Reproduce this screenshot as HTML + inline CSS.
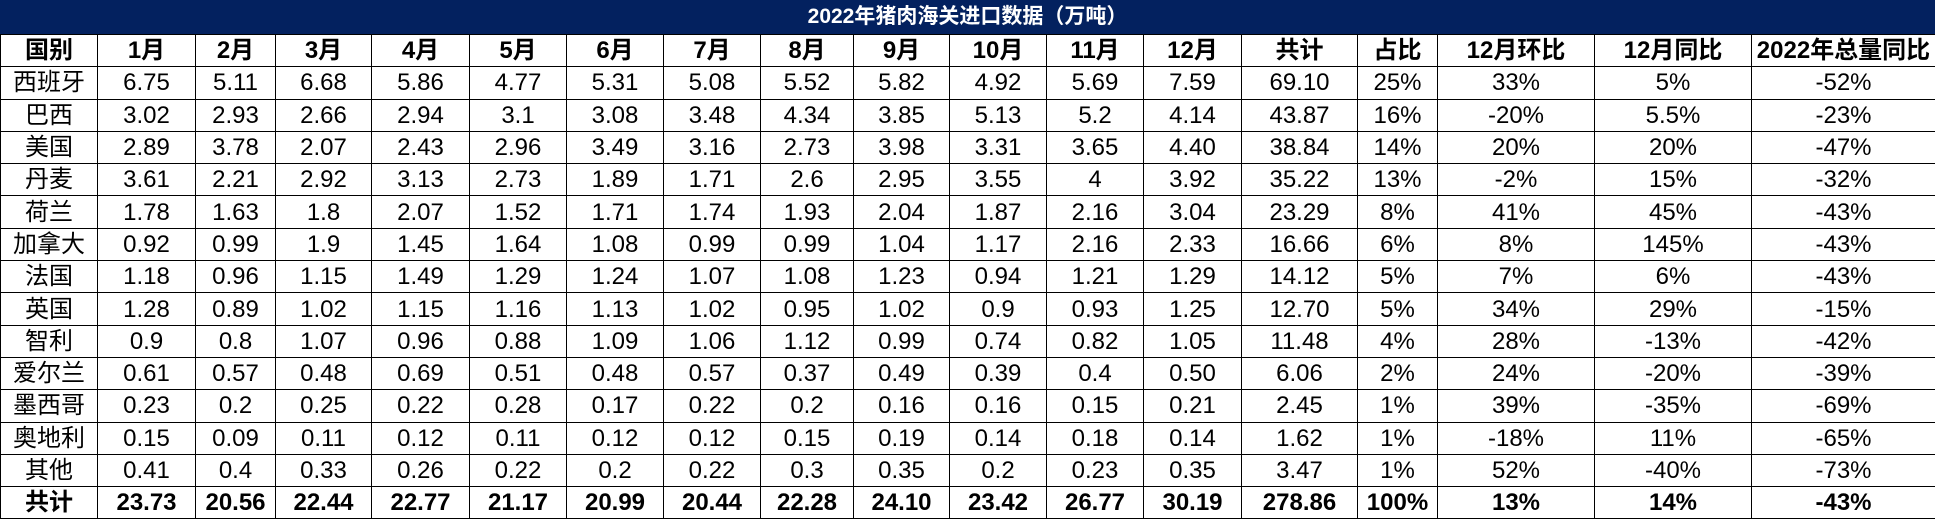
<!DOCTYPE html>
<html><head><meta charset="utf-8"><style>
html,body{margin:0;padding:0;background:#fff;}
#w{position:absolute;left:0;top:0;width:1935px;height:519px;overflow:hidden;}
.t{position:absolute;left:0;top:0;width:1935px;height:34px;background:#03215f;color:#fff;font:bold 21px "Liberation Sans","Noto Sans CJK SC",sans-serif;text-align:center;line-height:34px;}
table{position:absolute;left:0;top:34px;border-collapse:collapse;table-layout:fixed;width:1935px;font-family:"Liberation Sans Narrow","Liberation Sans","Noto Sans CJK SC",sans-serif;font-size:24px;color:#000;}
td{border:1px solid #000;height:31.3px;padding:0;text-align:center;white-space:nowrap;overflow:hidden;line-height:31px;}
tr.b td{font-weight:bold;}
</style></head><body><div id="w">
<div class="t">2022年猪肉海关进口数据（万吨）</div>
<table>
<colgroup><col style="width:97px"><col style="width:98px"><col style="width:80px"><col style="width:96px"><col style="width:98px"><col style="width:97px"><col style="width:97px"><col style="width:97px"><col style="width:93px"><col style="width:96px"><col style="width:97px"><col style="width:97px"><col style="width:98px"><col style="width:116px"><col style="width:80px"><col style="width:157px"><col style="width:157px"><col style="width:184px"></colgroup>
<tr class="b"><td>国别</td><td>1月</td><td>2月</td><td>3月</td><td>4月</td><td>5月</td><td>6月</td><td>7月</td><td>8月</td><td>9月</td><td>10月</td><td>11月</td><td>12月</td><td>共计</td><td>占比</td><td>12月环比</td><td>12月同比</td><td>2022年总量同比</td></tr>
<tr><td>西班牙</td><td>6.75</td><td>5.11</td><td>6.68</td><td>5.86</td><td>4.77</td><td>5.31</td><td>5.08</td><td>5.52</td><td>5.82</td><td>4.92</td><td>5.69</td><td>7.59</td><td>69.10</td><td>25%</td><td>33%</td><td>5%</td><td>-52%</td></tr>
<tr><td>巴西</td><td>3.02</td><td>2.93</td><td>2.66</td><td>2.94</td><td>3.1</td><td>3.08</td><td>3.48</td><td>4.34</td><td>3.85</td><td>5.13</td><td>5.2</td><td>4.14</td><td>43.87</td><td>16%</td><td>-20%</td><td>5.5%</td><td>-23%</td></tr>
<tr><td>美国</td><td>2.89</td><td>3.78</td><td>2.07</td><td>2.43</td><td>2.96</td><td>3.49</td><td>3.16</td><td>2.73</td><td>3.98</td><td>3.31</td><td>3.65</td><td>4.40</td><td>38.84</td><td>14%</td><td>20%</td><td>20%</td><td>-47%</td></tr>
<tr><td>丹麦</td><td>3.61</td><td>2.21</td><td>2.92</td><td>3.13</td><td>2.73</td><td>1.89</td><td>1.71</td><td>2.6</td><td>2.95</td><td>3.55</td><td>4</td><td>3.92</td><td>35.22</td><td>13%</td><td>-2%</td><td>15%</td><td>-32%</td></tr>
<tr><td>荷兰</td><td>1.78</td><td>1.63</td><td>1.8</td><td>2.07</td><td>1.52</td><td>1.71</td><td>1.74</td><td>1.93</td><td>2.04</td><td>1.87</td><td>2.16</td><td>3.04</td><td>23.29</td><td>8%</td><td>41%</td><td>45%</td><td>-43%</td></tr>
<tr><td>加拿大</td><td>0.92</td><td>0.99</td><td>1.9</td><td>1.45</td><td>1.64</td><td>1.08</td><td>0.99</td><td>0.99</td><td>1.04</td><td>1.17</td><td>2.16</td><td>2.33</td><td>16.66</td><td>6%</td><td>8%</td><td>145%</td><td>-43%</td></tr>
<tr><td>法国</td><td>1.18</td><td>0.96</td><td>1.15</td><td>1.49</td><td>1.29</td><td>1.24</td><td>1.07</td><td>1.08</td><td>1.23</td><td>0.94</td><td>1.21</td><td>1.29</td><td>14.12</td><td>5%</td><td>7%</td><td>6%</td><td>-43%</td></tr>
<tr><td>英国</td><td>1.28</td><td>0.89</td><td>1.02</td><td>1.15</td><td>1.16</td><td>1.13</td><td>1.02</td><td>0.95</td><td>1.02</td><td>0.9</td><td>0.93</td><td>1.25</td><td>12.70</td><td>5%</td><td>34%</td><td>29%</td><td>-15%</td></tr>
<tr><td>智利</td><td>0.9</td><td>0.8</td><td>1.07</td><td>0.96</td><td>0.88</td><td>1.09</td><td>1.06</td><td>1.12</td><td>0.99</td><td>0.74</td><td>0.82</td><td>1.05</td><td>11.48</td><td>4%</td><td>28%</td><td>-13%</td><td>-42%</td></tr>
<tr><td>爱尔兰</td><td>0.61</td><td>0.57</td><td>0.48</td><td>0.69</td><td>0.51</td><td>0.48</td><td>0.57</td><td>0.37</td><td>0.49</td><td>0.39</td><td>0.4</td><td>0.50</td><td>6.06</td><td>2%</td><td>24%</td><td>-20%</td><td>-39%</td></tr>
<tr><td>墨西哥</td><td>0.23</td><td>0.2</td><td>0.25</td><td>0.22</td><td>0.28</td><td>0.17</td><td>0.22</td><td>0.2</td><td>0.16</td><td>0.16</td><td>0.15</td><td>0.21</td><td>2.45</td><td>1%</td><td>39%</td><td>-35%</td><td>-69%</td></tr>
<tr><td>奥地利</td><td>0.15</td><td>0.09</td><td>0.11</td><td>0.12</td><td>0.11</td><td>0.12</td><td>0.12</td><td>0.15</td><td>0.19</td><td>0.14</td><td>0.18</td><td>0.14</td><td>1.62</td><td>1%</td><td>-18%</td><td>11%</td><td>-65%</td></tr>
<tr><td>其他</td><td>0.41</td><td>0.4</td><td>0.33</td><td>0.26</td><td>0.22</td><td>0.2</td><td>0.22</td><td>0.3</td><td>0.35</td><td>0.2</td><td>0.23</td><td>0.35</td><td>3.47</td><td>1%</td><td>52%</td><td>-40%</td><td>-73%</td></tr>
<tr class="b"><td>共计</td><td>23.73</td><td>20.56</td><td>22.44</td><td>22.77</td><td>21.17</td><td>20.99</td><td>20.44</td><td>22.28</td><td>24.10</td><td>23.42</td><td>26.77</td><td>30.19</td><td>278.86</td><td>100%</td><td>13%</td><td>14%</td><td>-43%</td></tr>
</table>
</div></body></html>
